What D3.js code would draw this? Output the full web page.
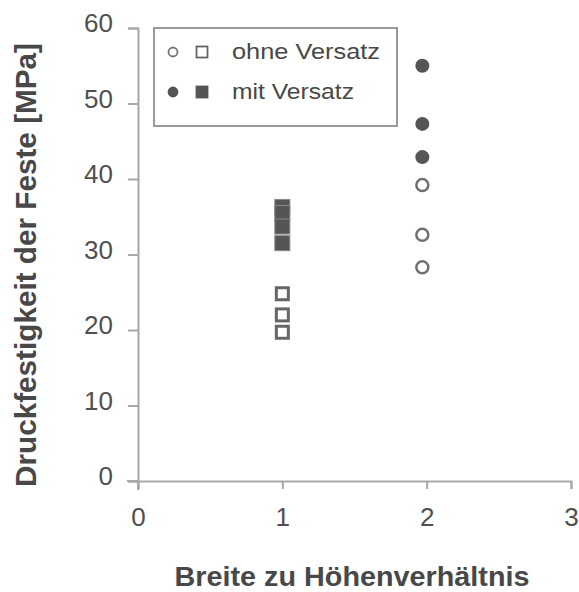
<!DOCTYPE html>
<html>
<head>
<meta charset="utf-8">
<script src="https://cdn.jsdelivr.net/npm/d3@7"></script>
<style>
  body { margin: 0; background: #fff; }
  text { font-family: "Liberation Sans", Arial, sans-serif; }
</style>
</head>
<body>
<script>
// data
var openCircles = [39.2, 32.6, 28.3];          // ohne Versatz, ratio 2
var filledCircles = [55, 47.3, 42.9];          // mit Versatz, ratio 2
var openSquares = [24.8, 22, 19.7];            // ohne Versatz, ratio 1
var filledSquares = [36.3, 35.5, 33.7, 31.5];  // mit Versatz, ratio 1
var xTicks = [0, 1, 2, 3];
var yTicks = [0, 10, 20, 30, 40, 50, 60];
var legendLabels = ["ohne Versatz", "mit Versatz"];

var w = 579, h = 592;
var axisColor = "#a8a8a8";
var ink = "#555";

var svg = d3.select("body").append("svg")
  .attr("width", w)
  .attr("height", h);

var x = d3.scaleLinear().domain([0, 3]).range([138, 571]);
var y = d3.scaleLinear().domain([0, 60]).range([481, 28]);

// y axis
var yAxis = svg.append("g")
  .attr("transform", "translate(" + x(0) + ",0)")
  .call(d3.axisLeft(y).tickValues(yTicks).tickSize(10).tickPadding(15).tickFormat(d3.format("d")));
// x axis
var xAxis = svg.append("g")
  .attr("transform", "translate(0," + y(0) + ")")
  .call(d3.axisBottom(x).tickValues(xTicks).tickSize(8).tickPadding(19).tickFormat(d3.format("d")));

[yAxis, xAxis].forEach(function(g) {
  g.select(".domain").attr("stroke", axisColor).attr("stroke-width", 2);
  g.selectAll(".tick line").attr("stroke", axisColor).attr("stroke-width", 2);
  g.selectAll(".tick text")
    .attr("fill", "#505050")
    .style("font-size", "26px")
    .style("font-family", "'Liberation Sans', Arial, sans-serif");
});
yAxis.selectAll(".tick text").attr("dy", "0.15em");
// small overhangs like the original
svg.append("line").attr("x1", x(0) - 11).attr("x2", x(0)).attr("y1", y(0)).attr("y2", y(0))
  .attr("stroke", axisColor).attr("stroke-width", 2);
svg.append("line").attr("x1", x(0)).attr("x2", x(0)).attr("y1", y(0)).attr("y2", y(0) + 9)
  .attr("stroke", axisColor).attr("stroke-width", 2);

// axis titles
svg.append("text")
  .attr("x", 352).attr("y", 586)
  .attr("text-anchor", "middle")
  .attr("font-weight", "bold")
  .attr("fill", "#484848")
  .attr("textLength", 355)
  .attr("lengthAdjust", "spacingAndGlyphs")
  .style("font-size", "28px")
  .text("Breite zu Höhenverhältnis");

svg.append("text")
  .attr("transform", "translate(36,265) rotate(-90)")
  .attr("text-anchor", "middle")
  .attr("font-weight", "bold")
  .attr("fill", "#484848")
  .attr("textLength", 444)
  .attr("lengthAdjust", "spacingAndGlyphs")
  .style("font-size", "29px")
  .text("Druckfestigkeit der Feste [MPa]");

// points
var s = 15;
svg.selectAll("circle.open").data(openCircles).enter().append("circle")
  .attr("class", "open")
  .attr("cx", x(1.97)).attr("cy", function(d) { return y(d); })
  .attr("r", 6).attr("fill", "#fff").attr("stroke", "#707070").attr("stroke-width", 2.5);
svg.selectAll("circle.filled").data(filledCircles).enter().append("circle")
  .attr("class", "filled")
  .attr("cx", x(1.97)).attr("cy", function(d) { return y(d); })
  .attr("r", 7).attr("fill", ink);
svg.selectAll("rect.filled").data(filledSquares).enter().append("rect")
  .attr("class", "filled")
  .attr("x", x(1) - s / 2).attr("y", function(d) { return y(d) - s / 2; })
  .attr("width", s).attr("height", s).attr("fill", ink).attr("stroke", "#888").attr("stroke-width", 1);
svg.selectAll("rect.open").data(openSquares).enter().append("rect")
  .attr("class", "open")
  .attr("x", x(1) - s / 2 + 1.5).attr("y", function(d) { return y(d) - s / 2 + 1.5; })
  .attr("width", s - 3).attr("height", s - 3).attr("fill", "#fff").attr("stroke", "#666").attr("stroke-width", 3);

// legend
var lg = svg.append("g");
lg.append("rect").attr("x", 154).attr("y", 28).attr("width", 243).attr("height", 98)
  .attr("fill", "#fff").attr("stroke", "#999").attr("stroke-width", 2);
legendLabels.forEach(function(t, i) {
  var ly = 52 + i * 40;
  var filled = i === 1;
  lg.append("circle").attr("cx", 173).attr("cy", ly).attr("r", 4.5)
    .attr("fill", filled ? ink : "#fff").attr("stroke", filled ? ink : "#777").attr("stroke-width", 1.8);
  lg.append("rect").attr("x", 196.5).attr("y", ly - 5.5).attr("width", 11).attr("height", 11)
    .attr("fill", filled ? ink : "#fff").attr("stroke", filled ? ink : "#666").attr("stroke-width", 1.8);
  lg.append("text").attr("x", 232).attr("y", ly + 7)
    .attr("fill", "#484848")
    .attr("textLength", i === 0 ? 148 : 122)
    .attr("lengthAdjust", "spacingAndGlyphs")
    .style("font-size", "22px").text(t);
});
</script>
</body>
</html>
